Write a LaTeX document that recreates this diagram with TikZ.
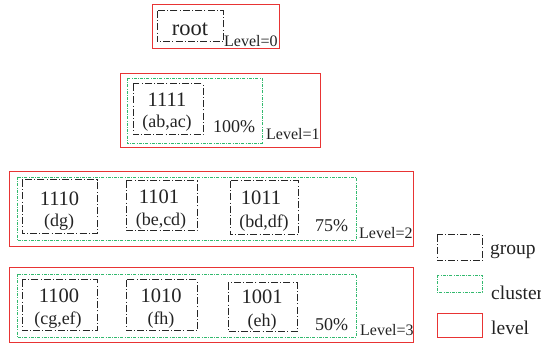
\documentclass[tikz,border=0pt]{standalone}
\usepackage{fontspec}
\setmainfont{Liberation Serif}
\definecolor{lvred}{RGB}{232,52,52}
\definecolor{clgreen}{RGB}{50,185,110}
\definecolor{txt}{RGB}{35,35,35}
\tikzset{
  groupbox/.style={draw=black!85, line width=1pt, dash pattern=on 7pt off 2.2pt on 1pt off 2.2pt},
  clusterbox/.style={draw=clgreen, line width=0.75pt, dash pattern=on 3pt off 1.3pt on 0.8pt off 1.3pt},
  levelbox/.style={draw=lvred, line width=0.9pt},
  num/.style={anchor=base, inner sep=0pt, text=txt, font=\fontsize{20.5}{21}\selectfont},
  sub/.style={anchor=base, inner sep=0pt, text=txt, font=\fontsize{18}{18}\selectfont},
  pct/.style={anchor=base west, inner sep=0pt, text=txt, font=\fontsize{18}{18}\selectfont},
  lvl/.style={anchor=base west, inner sep=0pt, text=txt, font=\fontsize{16}{16}\selectfont},
  leg/.style={anchor=base west, inner sep=0pt, text=txt, font=\fontsize{19.5}{20}\selectfont},
}
\begin{document}
\begin{tikzpicture}[x=1pt,y=-1pt]
\useasboundingbox (0,0) rectangle (541,347);
% level 0
\draw[levelbox] (152,4) rectangle (279,48);
\draw[groupbox] (157,11) rectangle (223,42);
\node[anchor=base, inner sep=0pt, text=txt, font=\fontsize{22.5}{23}\selectfont] (root) at (190,36) {root};
\node[lvl] (l0) at (224,46.5) {Level=0};
% level 1
\draw[levelbox] (120,73) rectangle (320,147);
\draw[clusterbox] (127,78) rectangle (262,143);
\draw[groupbox] (133,84) rectangle (203,135);
\node[num] (g1111) at (167,107) {1111};
\node[sub] (s1111) at (167,128) {(ab,ac)};
\node[pct] (p1) at (213,133) {100\%};
\node[lvl] (l1) at (266,140) {Level=1};
% level 2
\draw[levelbox] (9,171) rectangle (413,246);
\draw[clusterbox] (17,177) rectangle (356,240);
\draw[groupbox] (22,180) rectangle (97,234);
\draw[groupbox] (126,181) rectangle (197,231);
\draw[groupbox] (230,181) rectangle (298,235);
\node[num] (g1110) at (59.5,205.5) {1110};
\node[sub] (s1110) at (59,227) {(dg)};
\node[num] (g1101) at (159,204) {1101};
\node[sub] (s1101) at (161,226) {(be,cd)};
\node[num] (g1011) at (261,205) {1011};
\node[sub] (s1011) at (264,228) {(bd,df)};
\node[pct] (p2) at (315,232) {75\%};
\node[lvl] (l2) at (359,239) {Level=2};
% level 3
\draw[levelbox] (9,267) rectangle (413,342);
\draw[clusterbox] (17,274) rectangle (356,337);
\draw[groupbox] (22,280) rectangle (97,331);
\draw[groupbox] (126,280) rectangle (197,331);
\draw[groupbox] (228,283) rectangle (297,332);
\node[num] (g1100) at (59,303) {1100};
\node[sub] (s1100) at (58,325) {(cg,ef)};
\node[num] (g1010) at (161,303) {1010};
\node[sub] (s1010) at (161,325) {(fh)};
\node[num] (g1001) at (262,304) {1001};
\node[sub] (s1001) at (262,327) {(eh)};
\node[pct] (p3) at (315,331) {50\%};
\node[lvl] (l3) at (360,336) {Level=3};
% legend
\draw[groupbox] (437,235) rectangle (482,261);
\draw[clusterbox] (437,275) rectangle (482,292);
\draw[levelbox] (437,313) rectangle (482,337);
\node[leg] (lg1) at (490,255) {group};
\node[leg] (lg2) at (491,300) {cluster};
\node[leg] (lg3) at (491,335) {level};
\end{tikzpicture}
\end{document}
